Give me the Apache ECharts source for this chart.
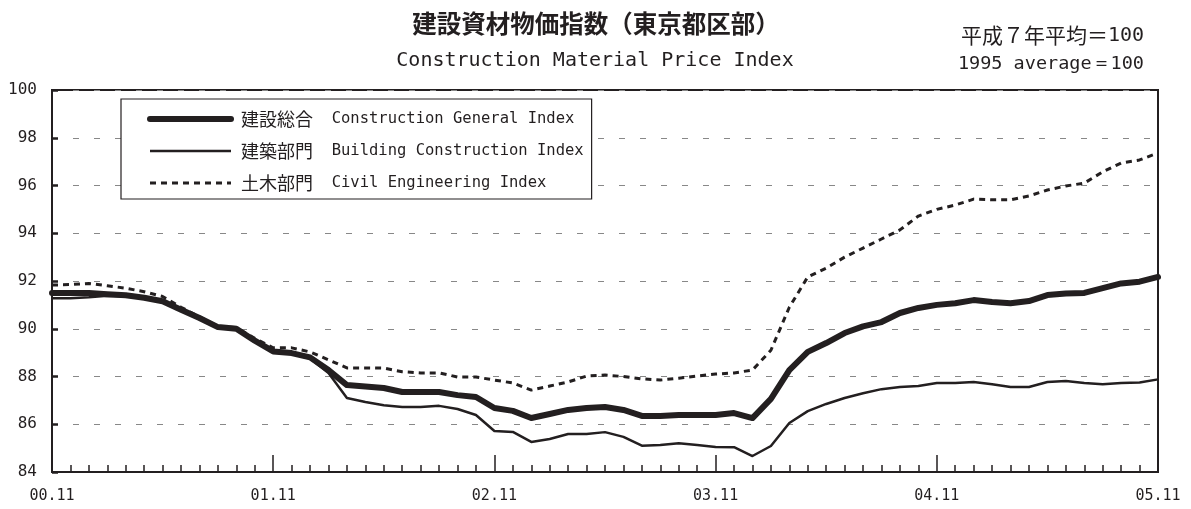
<!DOCTYPE html>
<html>
<head>
<meta charset="utf-8">
<script src="https://cdn.jsdelivr.net/npm/echarts@6/dist/echarts.min.js"></script>
<style>
  html, body { margin: 0; background: #fff; }
  #chart { width: 1191px; height: 509px; }
</style>
</head>
<body>
<div id="chart"></div>
<script>
// meses: 2000.11 - 2005.11
const months = [];
for (let k = 0; k <= 60; k++) {
  const m = (10 + k) % 12 + 1;
  const y = 2000 + Math.floor((10 + k) / 12);
  months.push(String(y % 100).padStart(2, '0') + '.' + String(m).padStart(2, '0'));
}

const seriesJa = ['建設総合', '建築部門', '土木部門'];
const seriesEn = ['Construction General Index', 'Building Construction Index', 'Civil Engineering Index'];

const general = [
  91.5, 91.5, 91.5, 91.45, 91.4, 91.3, 91.15, 90.8, 90.45, 90.07, 90.0, 89.5,
  89.05, 88.98, 88.8, 88.27, 87.64, 87.58, 87.52, 87.35, 87.35, 87.35, 87.22, 87.14,
  86.68, 86.56, 86.26, 86.43, 86.6, 86.68, 86.72, 86.6, 86.35, 86.35, 86.39, 86.39,
  86.39, 86.47, 86.26, 87.06, 88.27, 89.03, 89.4, 89.82, 90.1, 90.28, 90.66, 90.87,
  91.0, 91.07, 91.2, 91.12, 91.07, 91.16, 91.41, 91.48, 91.5, 91.7, 91.9, 91.97,
  92.17
];
const building = [
  91.28, 91.28, 91.32, 91.38, 91.35, 91.3, 91.15, 90.8, 90.45, 90.05, 90.0, 89.5,
  89.05, 88.95, 88.75, 88.15, 87.1, 86.93, 86.8, 86.72, 86.72, 86.77, 86.64, 86.39,
  85.72, 85.68, 85.26, 85.38, 85.59, 85.59, 85.67, 85.47, 85.1, 85.13, 85.2, 85.13,
  85.05, 85.04, 84.67, 85.09, 86.05, 86.55, 86.85, 87.1, 87.3, 87.47, 87.56, 87.6,
  87.73, 87.73, 87.77, 87.68, 87.56, 87.56, 87.77, 87.81, 87.73, 87.68, 87.73, 87.75,
  87.88
];
const civil = [
  91.83, 91.85, 91.9, 91.8, 91.7, 91.55, 91.35, 90.9, 90.5, 90.1, 90.05, 89.6,
  89.2, 89.2, 89.03, 88.7, 88.36, 88.36, 88.35, 88.2, 88.15, 88.15, 87.98, 87.98,
  87.85, 87.73, 87.43, 87.6, 87.77, 88.02, 88.06, 88.0, 87.9, 87.85, 87.93, 88.02,
  88.1, 88.15, 88.27, 89.1, 90.9, 92.17, 92.54, 93.0, 93.38, 93.76, 94.14, 94.72,
  95.0, 95.18, 95.43, 95.4, 95.4, 95.56, 95.81, 95.98, 96.1, 96.57, 96.94, 97.07,
  97.36
];

const INK = '#231f20';
const MONO = "'DejaVu Sans Mono', 'Liberation Mono', monospace";
const JP = "'Noto Sans CJK JP', sans-serif";

const lineStyles = [
  { color: INK, width: 6, cap: 'round', join: 'round' },
  { color: INK, width: 2.5, join: 'round' },
  { color: INK, width: 3, type: [6, 5] }
];

const myChart = echarts.init(document.getElementById('chart'));

myChart.setOption({
  animation: false,
  backgroundColor: '#fff',
  title: [
    {
      text: '建設資材物価指数（東京都区部）',
      left: 591, top: 6, textAlign: 'center',
      textStyle: { fontFamily: JP, fontSize: 24.5, fontWeight: 'bold', color: INK }
    },
    {
      text: 'Construction Material Price Index',
      left: 590, top: 46, textAlign: 'center',
      textStyle: { fontFamily: MONO, fontSize: 20, fontWeight: 'normal', color: INK }
    },
    {
      text: '{j|平成７年平均＝}{e|100}',
      right: 42, top: 20,
      textStyle: {
        rich: {
          j: { fontFamily: JP, fontSize: 21, fontWeight: 'normal', color: INK },
          e: { fontFamily: MONO, fontSize: 20, fontWeight: 'normal', color: INK }
        }
      }
    },
    {
      text: '1995 average＝100',
      right: 42, top: 50,
      textStyle: { fontFamily: MONO, fontSize: 18.5, fontWeight: 'normal', color: INK }
    }
  ],
  legend: {
    orient: 'vertical',
    left: 121, top: 99,
    padding: [11, 8, 7, 26],
    itemWidth: 81, itemHeight: 18, itemGap: 14,
    backgroundColor: '#fff',
    borderColor: INK, borderWidth: 1.2,
    itemStyle: { opacity: 0 },
    formatter: name => {
      const i = seriesJa.indexOf(name);
      return '{j|' + name + '}{e|  ' + seriesEn[i] + '}';
    },
    textStyle: {
      padding: [0, 0, 0, 5],
      rich: {
        j: { fontFamily: JP, fontSize: 18, color: INK },
        e: { fontFamily: MONO, fontSize: 15.5, color: INK }
      }
    },
    data: seriesJa.map((name, i) => ({ name, lineStyle: lineStyles[i] }))
  },
  grid: {
    left: 52, right: 33, top: 90, bottom: 37,
    show: true, borderColor: INK, borderWidth: 2, containLabel: false
  },
  xAxis: [
    {
      type: 'category', data: months, boundaryGap: false,
      axisLine: { lineStyle: { color: INK, width: 2 } },
      axisTick: { inside: true, length: 7, interval: 0, lineStyle: { color: INK, width: 1.5 } },
      axisLabel: { interval: 11, margin: 17, fontFamily: MONO, fontSize: 15, color: INK },
      splitLine: { show: false }
    },
    {
      type: 'category', data: months, boundaryGap: false, position: 'bottom',
      axisLine: { show: false },
      axisTick: { inside: true, length: 17, interval: 11, lineStyle: { color: INK, width: 1.5 } },
      axisLabel: { show: false },
      splitLine: { show: false }
    }
  ],
  yAxis: {
    type: 'value', min: 84, max: 100, interval: 2,
    axisLine: { show: true, lineStyle: { color: INK, width: 2 } },
    axisTick: { show: true, inside: true, length: 6, lineStyle: { color: INK, width: 2.5 } },
    axisLabel: { margin: 15, fontFamily: MONO, fontSize: 16, color: INK },
    splitLine: { show: true, lineStyle: { color: '#888', width: 1, type: [6, 15] } }
  },
  series: seriesJa.map((name, i) => ({
    name,
    type: 'line',
    data: [general, building, civil][i],
    symbol: 'none',
    z: 4 - i,
    lineStyle: lineStyles[i]
  }))
});

window.addEventListener('resize', () => myChart.resize());
</script>
</body>
</html>
